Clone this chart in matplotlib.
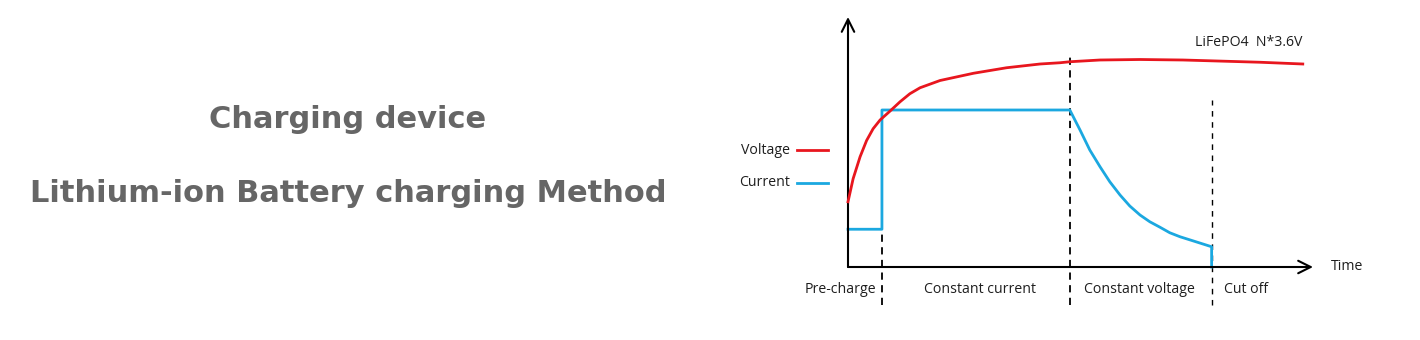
import matplotlib
matplotlib.use("Agg")
import matplotlib.pyplot as plt

# ---- data (time 0..100, value 0..100) ----
voltage_t = [0, 1.1, 2.6, 4.0, 5.4, 6.9, 9.0, 11.2, 13.3, 15.5, 19.8, 27.0, 34.1,
             41.3, 45.6, 47.7, 54.2, 62.8, 72.0, 79.4, 88.6, 97.8]
voltage_v = [26.1, 35.3, 44.1, 50.6, 55.3, 58.8, 62.3, 66.1, 69.3, 71.7, 74.6, 77.5,
             79.7, 81.2, 81.7, 82.1, 82.8, 83.0, 82.8, 82.4, 81.9, 81.2]

current_t = [0, 7.3, 7.3, 47.7, 49.9, 52.0, 54.2, 56.3, 58.5, 60.6, 62.8, 64.9,
             67.1, 69.2, 71.4, 74.3, 78.2, 78.2]
current_i = [15.1, 15.1, 62.8, 62.8, 54.8, 46.8, 40.1, 34.1, 28.8, 24.4, 20.8, 18.1,
             15.9, 13.7, 12.1, 10.4, 8.1, 0.0]

phase_bounds = [7.3, 47.7, 78.2]
phase_tops = [34.4, 84.1, 66.8]
phase_labels = ["Pre-charge", "Constant current", "Constant voltage", "Cut off"]
phase_label_x = [-1.7, 28.3, 62.6, 85.6]

title_lines = ["Charging device", "Lithium-ion Battery charging Method"]
series_names = ["Voltage", "Current"]
annotation = "LiFePO4  N*3.6V"

RED = "#e8161e"
BLUE = "#1ba8e0"
FONT = "Open Sans"
TXT = "#1e1e1e"

fig = plt.figure(figsize=(14.2, 3.4), dpi=100)
fig.patch.set_facecolor("white")

# titles on the left
fig.text(348 / 1420, 1 - 119 / 340, title_lines[0], ha="center", va="center",
         fontsize=22, fontweight="bold", color="#666666", family="DejaVu Sans")
fig.text(348 / 1420, 1 - 193 / 340, title_lines[1], ha="center", va="center",
         fontsize=22, fontweight="bold", color="#666666", family="DejaVu Sans")

# chart axes
ax = fig.add_axes([848 / 1420, 1 - 267 / 340, (1313 - 848) / 1420, (267 - 17) / 340])
ax.set_xlim(0, 100)
ax.set_ylim(0, 100)
ax.axis("off")

# axes arrows
arrow = dict(arrowstyle="->,head_length=0.9,head_width=0.45", color="black", lw=1.5,
             shrinkA=0, shrinkB=0)
ax.annotate("", xy=(100, 0), xytext=(0, 0), arrowprops=arrow, annotation_clip=False)
ax.annotate("", xy=(0, 100), xytext=(0, 0), arrowprops=arrow, annotation_clip=False)

# phase boundaries
for i, (xb, top) in enumerate(zip(phase_bounds, phase_tops)):
    ax.plot([xb, xb], [-15, top], color="black", lw=1.3 if i < 2 else 1.0,
            ls=(0, (4, 3)) if i < 2 else (0, (4, 4)), clip_on=False, zorder=1)

# curves
ax.plot(voltage_t, voltage_v, color=RED, lw=2.0, clip_on=False, zorder=3,
        solid_joinstyle="round")
ax.plot(current_t, current_i, color=BLUE, lw=2.0, clip_on=False, zorder=2,
        solid_joinstyle="round")

# phase labels
for lx, lab in zip(phase_label_x, phase_labels):
    ax.text(lx, -9, lab, ha="center", va="center", fontsize=10.2, family=FONT,
            color=TXT, clip_on=False)

ax.text(107.3, 0.4, "Time", ha="center", va="center", fontsize=10.2, family=FONT,
        color=TXT, clip_on=False)
ax.text(86.2, 90, annotation, ha="center", va="center", fontsize=10.2, family=FONT,
        color=TXT, clip_on=False)

# legend (left of y axis)
legend_y = [46.8, 33.6]
legend_colors = [RED, BLUE]
for name, ly, c in zip(series_names, legend_y, legend_colors):
    ax.text(-12.4, ly, name, ha="right", va="center", fontsize=10.2, family=FONT,
            color=TXT, clip_on=False)
    ax.plot([-11.0, -4.3], [ly, ly], color=c, lw=2.0, clip_on=False)

fig.savefig("out.png", dpi=100, facecolor="white")
